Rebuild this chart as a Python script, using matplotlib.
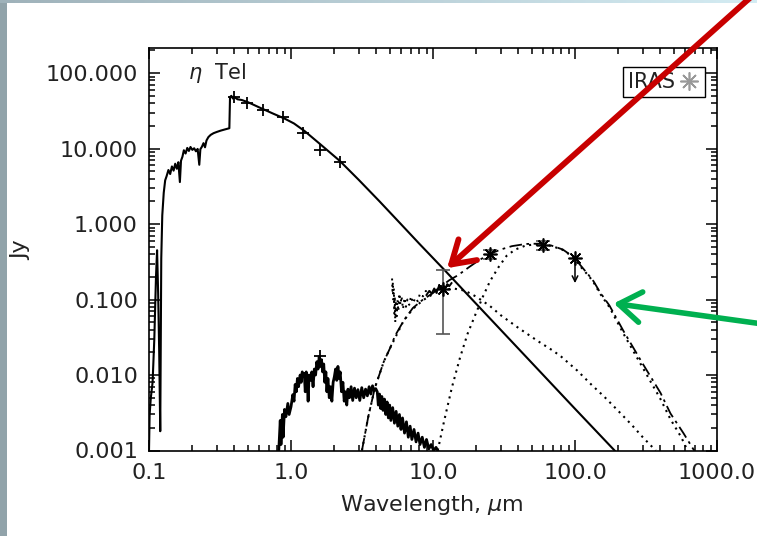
import matplotlib
matplotlib.use("Agg")  # no display in the sandbox
import matplotlib.pyplot as plt
import numpy as np
from matplotlib.lines import Line2D
from matplotlib.patches import FancyArrowPatch, Rectangle
from matplotlib.colors import LinearSegmentedColormap
from matplotlib.ticker import LogLocator, FuncFormatter, NullFormatter

# ============================================
# Data (wavelength in micron, flux in Jy)
# ============================================
# stellar photosphere + UV spectrum
phot_wl = [0.100, 0.101, 0.103, 0.106, 0.109, 0.112, 0.114, 0.116, 0.118, 0.120,
           0.122, 0.124, 0.127, 0.130, 0.133, 0.137, 0.141, 0.145, 0.149, 0.153,
           0.157, 0.161, 0.165, 0.168, 0.172, 0.176, 0.181, 0.186, 0.191, 0.196,
           0.202, 0.208, 0.214, 0.220, 0.226, 0.230, 0.236, 0.242, 0.248, 0.254,
           0.262, 0.272, 0.285, 0.300, 0.320, 0.345, 0.368, 0.372, 0.380, 0.390,
           0.400, 0.420, 0.450, 0.500, 0.600, 0.750, 0.900, 1.05, 1.25, 1.60,
           2.20, 3.00, 4.20, 6.00, 8.00, 12.2, 20.0, 40.0, 100.0, 190.0]
phot_fx = [0.001, 0.003, 0.005, 0.008, 0.03, 0.2, 0.45, 0.12, 0.02, 0.0018,
           0.35, 1.3, 2.6, 3.8, 4.3, 5.2, 4.6, 5.8, 5.1, 6.3,
           5.4, 6.6, 3.6, 6.9, 7.8, 9.5, 8.6, 10.2, 9.3, 10.5,
           9.6, 10.1, 9.2, 9.9, 6.1, 9.8, 10.6, 11.8, 10.4, 12.8,
           14.2, 15.2, 16.0, 16.6, 17.3, 18.0, 18.6, 48.0, 50.0, 46.0,
           48.0, 45.0, 44.0, 41.0, 35.0, 29.0, 25.0, 21.5, 17.0, 11.5,
           6.9, 3.85, 2.0, 0.98, 0.55, 0.24, 0.089, 0.0223, 0.00357, 0.001]

# optical / near-IR photometry of the star, plus the companion's H point
opt_wl = [0.40, 0.49, 0.64, 0.88, 1.22, 1.60, 2.22, 1.60]
opt_fx = [48.5, 39.7, 32.4, 26.4, 15.9, 9.5, 6.7, 0.018]

# companion spectrum (noisy)
bd_wl = [0.82, 0.84, 0.85, 0.87, 0.88, 0.90, 0.92, 0.95, 0.97, 1.00,
         1.03, 1.05, 1.07, 1.09, 1.11, 1.13, 1.16, 1.18, 1.20, 1.22,
         1.24, 1.26, 1.28, 1.30, 1.32, 1.34, 1.37, 1.40, 1.43, 1.46,
         1.49, 1.52, 1.55, 1.58, 1.61, 1.64, 1.67, 1.70, 1.73, 1.76,
         1.79, 1.82, 1.86, 1.90, 1.94, 1.98, 2.02, 2.06, 2.10, 2.14,
         2.18, 2.22, 2.27, 2.32, 2.37, 2.42, 2.47, 2.52, 2.58, 2.65,
         2.72, 2.80, 2.88, 2.96, 3.05, 3.15, 3.25, 3.35, 3.45, 3.55,
         3.65, 3.75, 3.85, 3.95, 4.05, 4.12, 4.20, 4.28, 4.36, 4.45,
         4.55, 4.65, 4.75, 4.85, 4.95, 5.05, 5.20, 5.35, 5.50, 5.65,
         5.80, 5.95, 6.10, 6.30, 6.50, 6.70, 6.90, 7.10, 7.35, 7.60,
         7.85, 8.10, 8.40, 8.70, 9.00, 9.35, 9.70, 10.1, 10.5, 10.8]
bd_fx = [0.001, 0.0025, 0.0012, 0.003, 0.0015, 0.0035, 0.0028, 0.0042, 0.0030, 0.0038,
         0.0055, 0.0045, 0.0075, 0.0060, 0.0090, 0.0070, 0.0100, 0.0080, 0.0110, 0.0095,
         0.0105, 0.0060, 0.0110, 0.0090, 0.0045, 0.0100, 0.0085, 0.0110, 0.0070, 0.0120,
         0.0100, 0.0150, 0.0120, 0.0175, 0.0130, 0.0160, 0.0110, 0.0140, 0.0080, 0.0110,
         0.0060, 0.0090, 0.0050, 0.0070, 0.0045, 0.0080, 0.0095, 0.0120, 0.0085, 0.0130,
         0.0090, 0.0110, 0.0060, 0.0080, 0.0045, 0.0060, 0.0040, 0.0065, 0.0050, 0.0070,
         0.0046, 0.0067, 0.0050, 0.0064, 0.0046, 0.0068, 0.0050, 0.0065, 0.0053, 0.0070,
         0.0056, 0.0072, 0.0062, 0.0066, 0.0060, 0.0040, 0.0056, 0.0036, 0.0052, 0.0034,
         0.0048, 0.0030, 0.0044, 0.0027, 0.0040, 0.0025, 0.0037, 0.0023, 0.0033, 0.0021,
         0.0030, 0.0019, 0.0027, 0.0017, 0.0024, 0.0015, 0.0021, 0.0014, 0.0019, 0.0013,
         0.0017, 0.0012, 0.0015, 0.0011, 0.0014, 0.00105, 0.0012, 0.001, 0.0011, 0.001]

# mid-IR spectrum (dotted, noisy)
irs_wl = [5.15, 5.18, 5.22, 5.26, 5.30, 5.34, 5.38, 5.42, 5.48, 5.55,
          5.62, 5.70, 5.80, 5.90, 6.00, 6.15, 6.30, 6.45, 6.60, 6.80,
          7.00, 7.25, 7.50, 7.80, 8.10, 8.50, 8.90, 9.30, 9.80, 10.3]
irs_fx = [0.19, 0.13, 0.17, 0.10, 0.14, 0.065, 0.11, 0.05, 0.09, 0.06,
          0.10, 0.07, 0.12, 0.085, 0.11, 0.075, 0.105, 0.08, 0.10, 0.085,
          0.11, 0.09, 0.105, 0.095, 0.12, 0.11, 0.13, 0.12, 0.14, 0.13]

# N-band spectrum (solid, noisy)
nband_wl = [9.0, 9.4, 9.8, 10.2, 10.6, 11.0, 11.4, 11.8, 12.2, 12.6, 13.0, 13.5]
nband_fx = [0.115, 0.13, 0.12, 0.14, 0.125, 0.15, 0.135, 0.155, 0.14, 0.16, 0.15, 0.165]

# warm dust component (dotted)
warm_wl = [3.16, 3.5, 3.9, 4.5, 5.0, 6.2, 7.2, 8.5, 10.0, 12.0, 14.0, 16.8,
           20.0, 25.0, 30.0, 40.0, 55.0, 70.0, 80.0, 104.0, 130.0, 160.0,
           200.0, 250.0, 300.0, 370.0]
warm_fx = [0.001, 0.0028, 0.0068, 0.015, 0.023, 0.052, 0.075, 0.098, 0.118, 0.135, 0.14, 0.131,
           0.11, 0.083, 0.062, 0.042, 0.028, 0.021, 0.0175, 0.0114, 0.0075, 0.0052,
           0.0034, 0.0022, 0.0015, 0.001]

# cool dust component (dotted)
cool_wl = [10.8, 12.0, 13.6, 15.5, 17.5, 20.0, 22.5, 25.2, 29.0, 33.0, 38.0, 45.0,
           56.0, 68.0, 82.0, 97.0, 110.0, 125.0, 135.0, 150.0, 175.0, 220.0,
           300.0, 400.0, 470.0, 560.0, 620.0]
cool_fx = [0.001, 0.0025, 0.0069, 0.017, 0.035, 0.065, 0.11, 0.175, 0.27, 0.38, 0.46, 0.52,
           0.545, 0.515, 0.455, 0.365, 0.27, 0.205, 0.17, 0.12, 0.079, 0.035,
           0.0125, 0.0048, 0.0026, 0.0015, 0.001]

# total dust model (dash-dot)
total_wl = [3.16, 3.5, 3.9, 4.5, 5.0, 5.4, 6.2, 7.2, 8.5, 10.0, 11.2, 13.0,
            15.0, 18.0, 21.0, 25.0, 30.0, 36.0, 45.0, 56.0, 68.0, 82.0,
            97.0, 110.0, 125.0, 135.0, 150.0, 175.0, 220.0, 300.0, 400.0,
            470.0, 580.0, 690.0]
total_fx = [0.001, 0.0028, 0.0068, 0.015, 0.023, 0.033, 0.052, 0.077, 0.10, 0.122, 0.145, 0.18,
            0.21, 0.27, 0.33, 0.40, 0.46, 0.51, 0.545, 0.55, 0.52, 0.46,
            0.37, 0.28, 0.21, 0.175, 0.125, 0.083, 0.038, 0.0141, 0.0058,
            0.0031, 0.0017, 0.001]

# IRAS photometry (100 micron is an upper limit)
iras_wl = [11.8, 25.0, 60.0, 100.0]
iras_fx = [0.14, 0.40, 0.53, 0.36]
iras_err = [0.105, 0.06, 0.07]
iras_limit = 0.165

# ============================================
# Figure / slide background
# ============================================
W, H = 757, 536
fig = plt.figure(figsize=(W / 100, H / 100), dpi=100)
fig.patch.set_facecolor("white")


def fpos(x, y):
    # pixel position (origin top-left) -> figure fraction
    return (x / W, 1 - y / H)


fig.add_artist(Rectangle((0, 0), 7 / W, 1, transform=fig.transFigure,
                         facecolor="#91a3aa", edgecolor="none", zorder=0))
bar = fig.add_axes([0, 1 - 3 / H, 1, 3 / H])
bar.imshow(np.linspace(0, 1, 256)[None, :], aspect="auto",
           cmap=LinearSegmentedColormap.from_list("strip", ["#9fb2ba", "#d4ecf3"]))
bar.axis("off")

# ============================================
# SED plot
# ============================================
ax = fig.add_axes([149 / W, (H - 450.5) / H, 568 / W, 402.5 / H])
ax.set_xscale("log")
ax.set_yscale("log")
ax.set_xlim(0.1, 1000)
ax.set_ylim(0.001, 215)

dotted = (0, (1, 2.2))
ax.plot(phot_wl, phot_fx, color="k", lw=1.5)
ax.plot(bd_wl, bd_fx, color="k", lw=2.0)
ax.plot(irs_wl, irs_fx, color="k", lw=1.4, ls=dotted)
ax.plot(nband_wl, nband_fx, color="k", lw=1.4)
ax.plot(warm_wl, warm_fx, color="k", lw=1.5, ls=dotted)
ax.plot(cool_wl, cool_fx, color="k", lw=1.5, ls=dotted)
ax.plot(total_wl, total_fx, color="k", lw=1.3, ls=(0, (7, 2.5, 1.5, 2.5)))

ax.plot(opt_wl, opt_fx, ls="none", marker="+", color="k", ms=9, mew=1.3)

ax.errorbar(iras_wl[:3], iras_fx[:3], yerr=iras_err, fmt="none",
            ecolor="#555555", elinewidth=1.2, capsize=5, capthick=1.2)
ax.plot(iras_wl, iras_fx, ls="none", marker=(8, 2, 0), color="k", ms=10, mew=1.2)
ax.annotate("", xy=(iras_wl[3], iras_limit), xytext=(iras_wl[3], iras_fx[3]),
            arrowprops=dict(arrowstyle="->", color="k", lw=1.1,
                            shrinkA=0, shrinkB=0))

ax.text(0.069, 0.938, r"$\eta$  Tel", transform=ax.transAxes,
        fontsize=15, ha="left", va="center", color="#222222")

handle = Line2D([], [], ls="none", marker=(8, 2, 0), color="#999999", ms=13, mew=1.2)
leg = ax.legend([handle], ["IRAS"], loc="upper right", bbox_to_anchor=(0.979, 0.953),
                borderaxespad=0, markerfirst=False, fancybox=False, framealpha=1,
                edgecolor="k", fontsize=15, handlelength=1.0, handletextpad=0.2,
                borderpad=0.25)
leg.get_frame().set_linewidth(1.0)
for t in leg.get_texts():
    t.set_color("#222222")

# axes / ticks in IDL style
for s in ax.spines.values():
    s.set_linewidth(1.2)
ax.xaxis.set_major_locator(LogLocator(base=10, numticks=10))
ax.xaxis.set_minor_locator(LogLocator(base=10, subs=np.arange(2, 10), numticks=10))
ax.yaxis.set_major_locator(LogLocator(base=10, numticks=10))
ax.yaxis.set_minor_locator(LogLocator(base=10, subs=np.arange(2, 10), numticks=10))
ax.xaxis.set_major_formatter(FuncFormatter(lambda v, p: f"{v:.1f}"))
ax.yaxis.set_major_formatter(FuncFormatter(lambda v, p: f"{v:.3f}"))
ax.xaxis.set_minor_formatter(NullFormatter())
ax.yaxis.set_minor_formatter(NullFormatter())
ax.tick_params(which="both", direction="in", top=True, right=True,
               labelsize=16, labelcolor="#222222", width=1.1)
ax.tick_params(which="major", length=8)
ax.tick_params(which="minor", length=4)
ax.tick_params(axis="x", pad=9)
ax.tick_params(axis="y", pad=8)

ax.set_xlabel(r"Wavelength, $\mu$m", fontsize=16, color="#222222")
ax.xaxis.set_label_coords(0.497, -0.105)
ax.set_ylabel("Jy", fontsize=16, color="#222222")
ax.yaxis.set_label_coords(-0.208, 0.498)

# ============================================
# Slide annotation arrows
# ============================================
red = FancyArrowPatch(fpos(770, -20), fpos(445, 270), transform=fig.transFigure,
                      arrowstyle="->,head_length=0.8,head_width=0.5", mutation_scale=20,
                      color="#c80000", lw=4.2, capstyle="round", zorder=10)
green = FancyArrowPatch(fpos(770, 325), fpos(611, 303), transform=fig.transFigure,
                        arrowstyle="->,head_length=0.8,head_width=0.55", mutation_scale=20,
                        color="#00b050", lw=4, capstyle="round", zorder=10)
fig.add_artist(red)
fig.add_artist(green)

fig.savefig("out.png", dpi=100)
